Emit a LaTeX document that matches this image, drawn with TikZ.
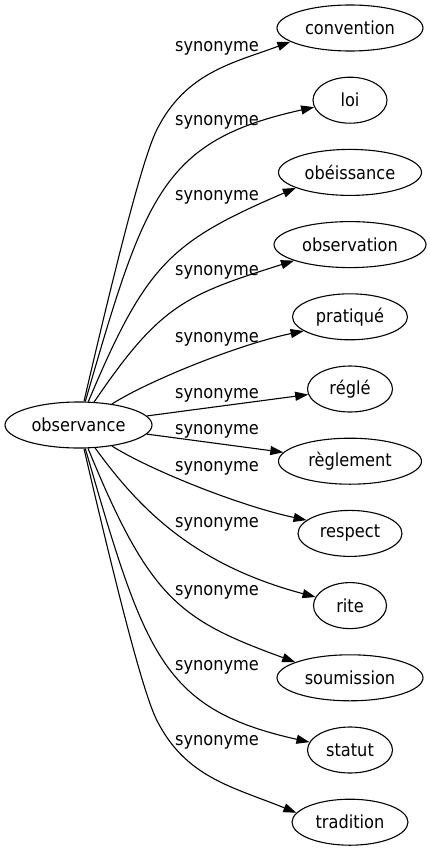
\documentclass[tikz,border=0pt]{standalone}
\usepackage{fontspec}
\setmainfont{DejaVu Sans}[FakeStretch=0.9]
\usetikzlibrary{shapes.geometric,arrows.meta}
\begin{document}
\begin{tikzpicture}[x=1pt,y=-1pt,
  every node/.style={font=\fontsize{18}{21}\selectfont},
  obs/.style={ellipse,draw,line width=1.1pt,inner sep=0pt,minimum height=46pt},
  lbl/.style={inner sep=0pt},
  syn/.style={draw,line width=1.1pt,-{Triangle[length=13pt,width=9pt]}}]
\useasboundingbox (0,0) rectangle (430,851);
\node[obs,minimum width=147pt] (o) at (78.5,425) {observance};
\node[obs,minimum width=146pt] (n1) at (350,28) {convention};
\node[obs,minimum width=74pt] (n2) at (350,100.2) {loi};
\node[obs,minimum width=143pt] (n3) at (350,172.4) {obéissance};
\node[obs,minimum width=152pt] (n4) at (350,244.6) {observation};
\node[obs,minimum width=115pt] (n5) at (350,316.8) {pratiqué};
\node[obs,minimum width=85pt] (n6) at (350,389) {réglé};
\node[obs,minimum width=143pt] (n7) at (350,461.2) {règlement};
\node[obs,minimum width=104pt] (n8) at (350,533.4) {respect};
\node[obs,minimum width=73pt] (n9) at (350,605.6) {rite};
\node[obs,minimum width=146pt] (n10) at (350,677.8) {soumission};
\node[obs,minimum width=85pt] (n11) at (350,750) {statut};
\node[obs,minimum width=116pt] (n12) at (350,822.2) {tradition};

\node[lbl] (l1) at (217,48) {synonyme};
\node[lbl] (l2) at (217,122) {synonyme};
\node[lbl] (l3) at (217,197) {synonyme};
\node[lbl] (l4) at (217,272) {synonyme};
\node[lbl] (l5) at (217,339) {synonyme};
\node[lbl] (l6) at (217,395) {synonyme};
\node[lbl] (l7) at (217,431) {synonyme};
\node[lbl] (l8) at (217,468) {synonyme};
\node[lbl] (l9) at (217,524) {synonyme};
\node[lbl] (l10) at (217,592) {synonyme};
\node[lbl] (l11) at (217,667) {synonyme};
\node[lbl] (l12) at (217,742) {synonyme};

\draw[syn] (o) .. controls (118,255) and (143.3,156.8) .. (156.7,130) .. controls (185.6,72.2) and (233.2,63) .. (n1.193);
\draw[syn] (o) .. controls (145.1,195) and (161.8,140.8) .. (n2.191);
\draw[syn] (o) .. controls (146.3,263.8) and (170.2,241.9) .. (n3.196);
\draw[syn] (o) .. controls (160,305) and (185,295) .. (n4.196);
\draw[syn] (o) .. controls (150,380) and (240,344) .. (n5.197);
\draw[syn] (o) -- (n6);
\draw[syn] (o) -- (n7);
\draw[syn] (o) .. controls (150,470) and (240,506) .. (n8.163);
\draw[syn] (o) .. controls (140,510) and (195,565) .. (n9.166);
\draw[syn] (o) .. controls (150,600) and (180,620) .. (n10.164);
\draw[syn] (o) .. controls (145.1,655) and (161.8,709.2) .. (n11.169);
\draw[syn] (o) .. controls (118,595) and (143.3,693.2) .. (156.7,720) .. controls (185.6,777.8) and (233.2,787) .. (n12.170);
\end{tikzpicture}
\end{document}
